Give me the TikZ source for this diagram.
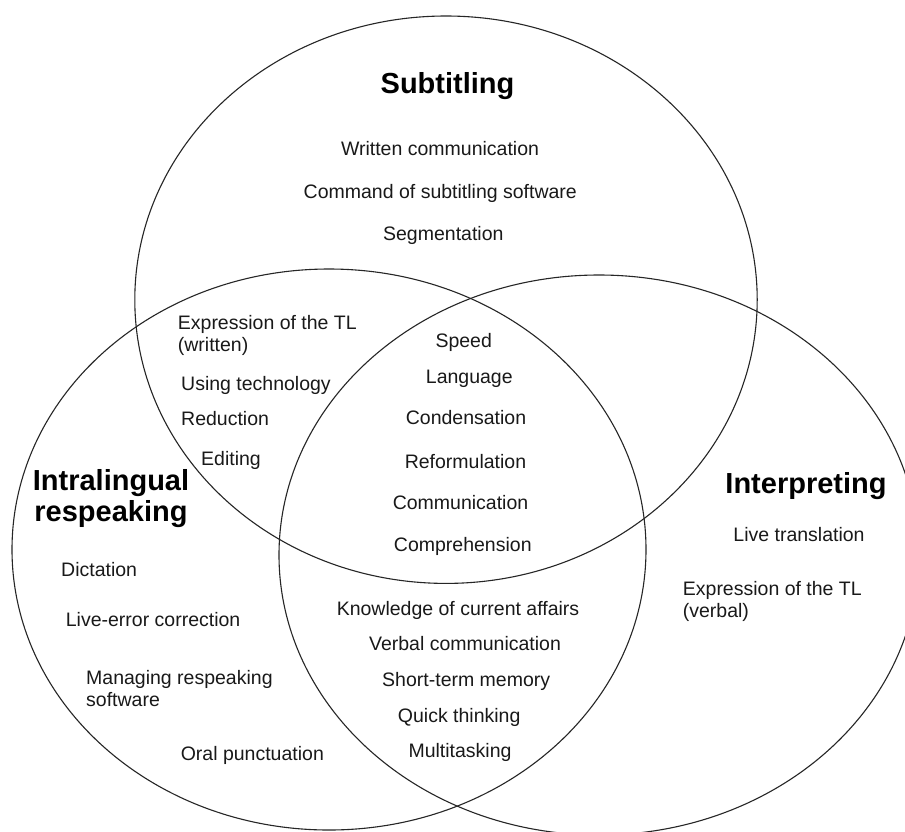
\documentclass[tikz,border=0pt]{standalone}
\usepackage{fontspec}
\setmainfont{Liberation Sans}
\begin{document}
\begin{tikzpicture}[x=1pt,y=-1pt,
  ring/.style={draw=black!85,line width=1.1pt},
  item/.style={inner sep=0pt,font=\fontsize{19.5}{22.6}\selectfont,text=black!90},
  itemc/.style={item,anchor=base},
  iteml/.style={item,anchor=base west,align=left},
  title/.style={inner sep=0pt,anchor=base,align=center,font=\fontsize{29}{31.7}\selectfont\bfseries}]
\useasboundingbox[fill=white] (0,0) rectangle (905,831);
% circles
\draw[ring] (446,299.7) ellipse [x radius=311.2,y radius=283.7];
\draw[ring] (329,549.5) ellipse [x radius=317,y radius=280.5];
\draw[ring] (599,555) ellipse [x radius=320,y radius=280];
% Subtitling
\node[title] (tsub) at (447.5,93.5) {Subtitling};
\node[itemc] (s1) at (440,155) {Written communication};
\node[itemc] (s2) at (440.3,198.3) {Command of subtitling software};
\node[itemc] (s3) at (443.3,240) {Segmentation};
% Subtitling & respeaking
\node[iteml] (sr1) at (177.7,351.9) {Expression of the TL\\(written)};
\node[iteml] (sr2) at (181,390) {Using technology};
\node[iteml] (sr3) at (181,425.3) {Reduction};
\node[iteml] (sr4) at (201,465) {Editing};
% centre
\node[itemc] (c1) at (463.7,347.3) {Speed};
\node[itemc] (c2) at (469.3,383.3) {Language};
\node[itemc] (c3) at (466,424) {Condensation};
\node[itemc] (c4) at (465.5,468.3) {Reformulation};
\node[itemc] (c5) at (460.5,509.3) {Communication};
\node[itemc] (c6) at (462.8,551) {Comprehension};
% respeaking & interpreting
\node[itemc] (ri1) at (458,615.7) {Knowledge of current affairs};
\node[itemc] (ri2) at (465,650) {Verbal communication};
\node[itemc] (ri3) at (466.2,686.7) {Short-term memory};
\node[itemc] (ri4) at (459.2,722.7) {Quick thinking};
\node[itemc] (ri5) at (460,757) {Multitasking};
% Intralingual respeaking
\node[title] (tres) at (111,521.7) {Intralingual\\respeaking};
\node[iteml] (r1) at (61,576.7) {Dictation};
\node[iteml] (r2) at (65.7,626.7) {Live-error correction};
\node[iteml] (r3) at (86,706.6) {Managing respeaking\\software};
\node[iteml] (r4) at (180.6,760) {Oral punctuation};
% Interpreting
\node[title] (tint) at (806,493.3) {Interpreting};
\node[itemc] (i1) at (799,541.7) {Live translation};
\node[iteml] (i2) at (682.7,617.6) {Expression of the TL\\(verbal)};
\end{tikzpicture}
\end{document}
